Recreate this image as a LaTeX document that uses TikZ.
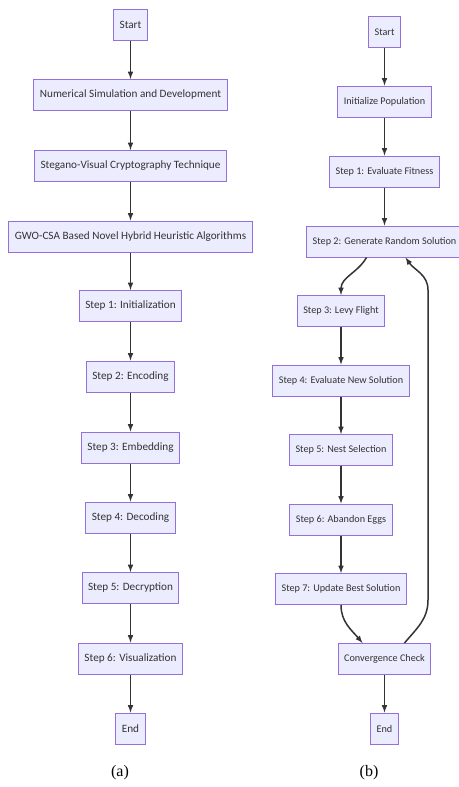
\documentclass[tikz,border=0pt]{standalone}
\usepackage{fontspec}
\setmainfont{Carlito}
\newfontfamily\capfont{Liberation Serif}
\usetikzlibrary{arrows}
\definecolor{boxfill}{HTML}{ECECFF}
\definecolor{boxline}{HTML}{9370DB}
\definecolor{ink}{HTML}{333333}

\begin{document}
\begin{tikzpicture}[x=1pt,y=-1pt,>=latex,
  box/.style={draw=boxline,fill=boxfill,line width=1pt,text=ink,
    minimum height=31pt,inner xsep=6pt,font=\fontsize{11.2}{13}\selectfont},
  boxb/.style={box,font=\fontsize{10.2}{12}\selectfont},
  link/.style={->,draw=ink,line width=1.5pt}]
\useasboundingbox (0,0) rectangle (458,787);
% (a)
\node[box] (a1) at (130.5,25) {Start};
\node[box] (a2) at (130.5,95) {Numerical Simulation and Development};
\node[box] (a3) at (130.5,166) {Stegano-Visual Cryptography Technique};
\node[box] (a4) at (130.5,236.5) {GWO-CSA Based Novel Hybrid Heuristic Algorithms};
\node[box] (a5) at (130.5,306) {Step 1: Initialization};
\node[box] (a6) at (130.5,376.5) {Step 2: Encoding};
\node[box] (a7) at (130.5,447.5) {Step 3: Embedding};
\node[box] (a8) at (130.5,517.5) {Step 4: Decoding};
\node[box] (a9) at (130.5,588) {Step 5: Decryption};
\node[box] (a10) at (130.5,658.5) {Step 6: Visualization};
\node[box] (a11) at (130.5,728.5) {End};
\foreach \i/\j in {1/2,2/3,3/4,4/5,5/6,6/7,7/8,8/9,9/10,10/11}
  \draw[link] (a\i) -- (a\j);
\node[font=\capfont\fontsize{16}{18}\selectfont] (la) at (120,773) {(a)};
% (b)
\node[boxb] (b1) at (384.5,32) {Start};
\node[boxb] (b2) at (384.5,101.5) {Initialize Population};
\node[boxb] (b3) at (384.5,171.5) {Step 1: Evaluate Fitness};
\node[boxb] (b4) at (384.5,241.5) {Step 2: Generate Random Solution};
\node[boxb] (b5) at (341,311) {Step 3: Levy Flight};
\node[boxb] (b6) at (341,380.5) {Step 4: Evaluate New Solution};
\node[boxb] (b7) at (341,450) {Step 5: Nest Selection};
\node[boxb] (b8) at (341,519.5) {Step 6: Abandon Eggs};
\node[boxb] (b9) at (341,589) {Step 7: Update Best Solution};
\node[boxb] (b10) at (384.5,659) {Convergence Check};
\node[boxb] (b11) at (384.5,728.5) {End};
\foreach \i/\j in {1/2,2/3,3/4,5/6,6/7,7/8,8/9,10/11}
  \draw[link] (b\i) -- (b\j);
\draw[link] ([xshift=-18pt]b4.south) to[out=-120,in=90] (b5.north);
\draw[link] (b9.south) to[out=-90,in=130] ([xshift=-22pt]b10.north);
\coordinate (r1) at (428,600);
\coordinate (r2) at (428,290);
\draw[link] ([xshift=20pt]b10.north) to[out=50,in=-90] (r1) -- (r2)
  to[out=90,in=-55] ([xshift=21pt]b4.south);
\node[font=\capfont\fontsize{16}{18}\selectfont] (lb) at (369,773) {(b)};
\end{tikzpicture}
\end{document}
